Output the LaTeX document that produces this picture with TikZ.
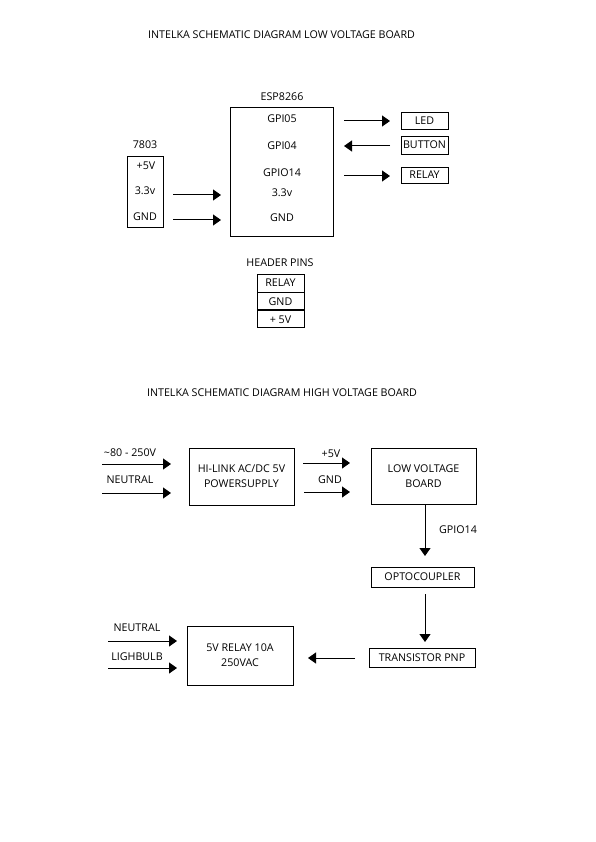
\documentclass[tikz,border=0pt]{standalone}
\usepackage{fontspec}
\setmainfont{Open Sans}
\usetikzlibrary{arrows.meta}
\begin{document}
\begin{tikzpicture}[x=1pt,y=-1pt,
  txt/.style={inner sep=0pt,font=\fontsize{10.7}{15}\selectfont,align=center},
  box/.style={draw,line width=0.9pt,inner sep=0pt,font=\fontsize{10.7}{15}\selectfont,align=center},
  arr/.style={line width=1pt,-{Triangle[length=8pt,width=11pt]}}]
\useasboundingbox (0,0) rectangle (595,842);
\fill[white] (0,0) rectangle (595,842);
% ---------- low voltage board ----------
\node[txt] (t1) at (281.5,35) {INTELKA SCHEMATIC DIAGRAM LOW VOLTAGE BOARD};
\node[txt] (esplbl) at (282,97) {ESP8266};
\node[box,minimum width=103pt,minimum height=129pt] (esp) at (281.5,171.5) {};
\node[txt] (g5) at (282,119) {GPI05};
\node[txt] (g4) at (282,146) {GPI04};
\node[txt] (g14) at (282,173) {GPIO14};
\node[txt] (e33) at (282,193) {3.3v};
\node[txt] (egnd) at (282,218) {GND};
\node[box,minimum width=47pt,minimum height=17pt] (led) at (424.5,120.5) {LED};
\node[box,minimum width=47pt,minimum height=18pt] (btn) at (424.5,145) {BUTTON};
\node[box,minimum width=47pt,minimum height=16pt] (rly) at (424.5,175) {RELAY};
\coordinate (a1s) at (344,121);
\coordinate (a1e) at (390,121);
\coordinate (a2s) at (390,146);
\coordinate (a2e) at (344,146);
\coordinate (a3s) at (344,176);
\coordinate (a3e) at (390,176);
\draw[arr] (a1s) -- (a1e);
\draw[arr] (a2s) -- (a2e);
\draw[arr] (a3s) -- (a3e);
\node[txt] (lbl7803) at (145,145) {7803};
\node[box,minimum width=36pt,minimum height=71pt] (reg) at (145,191.5) {};
\node[txt] (r5) at (146,166) {+5V};
\node[txt] (r33) at (145,191) {3.3v};
\node[txt] (rgnd) at (145,217) {GND};
\coordinate (b1s) at (173,195);
\coordinate (b1e) at (221,195);
\coordinate (b2s) at (173,220);
\coordinate (b2e) at (221,220);
\draw[arr] (b1s) -- (b1e);
\draw[arr] (b2s) -- (b2e);
\node[txt] (hplbl) at (280,263) {HEADER PINS};
\node[box,minimum width=47pt,minimum height=18pt] (h1) at (280.5,283) {RELAY};
\node[box,minimum width=47pt,minimum height=17pt,anchor=north] (h2) at (h1.south) {GND};
\node[box,minimum width=47pt,minimum height=17pt,anchor=north] (h3) at (h2.south) {+ 5V};
% ---------- high voltage board ----------
\node[txt] (t2) at (282,393) {INTELKA SCHEMATIC DIAGRAM HIGH VOLTAGE BOARD};
\node[txt] (ac) at (130,453) {\textasciitilde80 - 250V};
\node[txt] (neu1) at (130,480) {NEUTRAL};
\node[box,minimum width=105pt,minimum height=57pt] (hl) at (241.5,476.5) {HI-LINK AC/DC 5V\\POWERSUPPLY};
\coordinate (c1s) at (102,464);
\coordinate (c1e) at (171,464);
\coordinate (c2s) at (102,493);
\coordinate (c2e) at (171,493);
\draw[arr] (c1s) -- (c1e);
\draw[arr] (c2s) -- (c2e);
\node[txt] (p5) at (331,454) {+5V};
\node[txt] (pg) at (330,480) {GND};
\node[box,minimum width=105pt,minimum height=56pt] (lvb) at (423.5,476) {LOW VOLTAGE\\BOARD};
\coordinate (d1s) at (303,463);
\coordinate (d1e) at (350,463);
\coordinate (d2s) at (304,492);
\coordinate (d2e) at (350,492);
\draw[arr] (d1s) -- (d1e);
\draw[arr] (d2s) -- (d2e);
\node[txt] (g14b) at (458,530) {GPIO14};
\node[box,minimum width=103pt,minimum height=20pt] (opto) at (422.5,577) {OPTOCOUPLER};
\node[box,minimum width=106pt,minimum height=19pt] (tpnp) at (422,657.5) {TRANSISTOR PNP};
\node[box,minimum width=106pt,minimum height=59pt] (rel) at (240,655.5) {5V RELAY 10A\\250VAC};
\coordinate (e1e) at (425,556);
\coordinate (e2s) at (425,594);
\coordinate (e2e) at (425,642);
\draw[arr] (lvb.south-|e1e) -- (e1e);
\draw[arr] (e2s) -- (e2e);
\coordinate (f1s) at (355,658);
\coordinate (f1e) at (308,658);
\draw[arr] (f1s) -- (f1e);
\node[txt] (neu2) at (137,628) {NEUTRAL};
\node[txt] (lb) at (137,657) {LIGHBULB};
\coordinate (g1s) at (108,641);
\coordinate (g1e) at (177,641);
\coordinate (g2s) at (108,668);
\coordinate (g2e) at (177,668);
\draw[arr] (g1s) -- (g1e);
\draw[arr] (g2s) -- (g2e);
\end{tikzpicture}
\end{document}
